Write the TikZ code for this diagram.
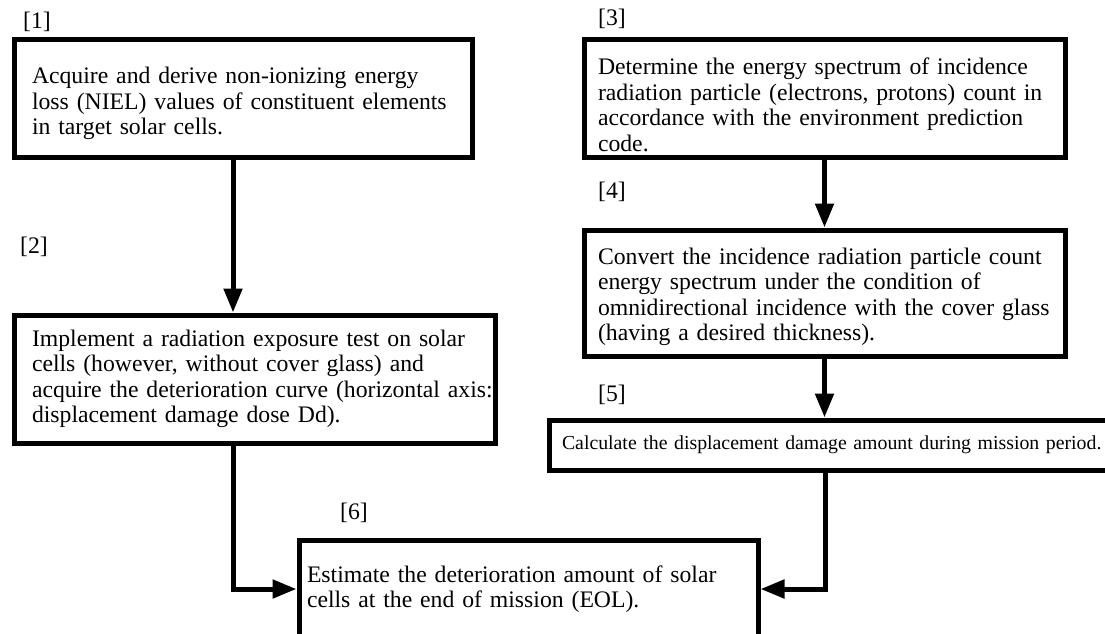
\documentclass[tikz,border=0pt]{standalone}
\usepackage{fontspec}
\setmainfont{Liberation Serif}
\usetikzlibrary{arrows.meta}
\begin{document}
\begin{tikzpicture}[x=1pt,y=-1pt,
  box/.style={draw, line width=5pt, rectangle, inner ysep=0pt, align=left,
    font=\fontsize{23.7}{25.5}\selectfont},
  smallbox/.style={draw, line width=5pt, rectangle, inner ysep=0pt, align=left,
    font=\fontsize{19.8}{22}\selectfont},
  lbl/.style={inner sep=0pt, anchor=base west, font=\fontsize{23.7}{25.5}\selectfont},
  conn/.style={line width=5pt, -{Triangle[length=24pt,width=18pt]}}]
\path[fill=white, use as bounding box] (0,0) rectangle (1105,633);

% boxes
\node[box, minimum width=458pt, minimum height=118pt, inner xsep=18pt, text width=422pt] (b1) at (243,98)
  {\rule{0pt}{28pt}\mbox{Acquire and derive non-ionizing energy}\\\mbox{loss (NIEL) values of constituent elements}\\\mbox{in target solar cells.}};
\node[box, minimum width=481pt, minimum height=128pt, inner xsep=18pt, text width=445pt] (b2) at (254.5,379)
  {\mbox{Implement a radiation exposure test on solar}\\\mbox{cells (however, without cover glass) and}\\\mbox{acquire the deterioration curve (horizontal axis:}\\\mbox{displacement damage dose Dd).}};
\node[box, minimum width=481pt, minimum height=118pt, inner xsep=14pt, text width=453pt] (b3) at (824.5,98)
  {\rule{0pt}{30pt}\mbox{Determine the energy spectrum of incidence}\\\mbox{radiation particle (electrons, protons) count in}\\\mbox{accordance with the environment prediction}\\\mbox{code.}};
\node[box, minimum width=481pt, minimum height=126pt, inner xsep=14pt, text width=453pt] (b4) at (824.5,293)
  {\rule{0pt}{24pt}\mbox{Convert the incidence radiation particle count}\\\mbox{energy spectrum under the condition of}\\\mbox{omnidirectional incidence with the cover glass}\\\mbox{(having a desired thickness).}};
\node[smallbox, minimum width=566pt, minimum height=50pt, inner xsep=13pt, text width=540pt] (b5) at (832,445)
  {\mbox{Calculate the displacement damage amount during mission period.}};
\node[box, minimum width=459pt, minimum height=98pt, inner xsep=8pt, text width=443pt] (b6) at (528.5,589)
  {\mbox{Estimate the deterioration amount of solar}\\\mbox{cells at the end of mission (EOL).}};

% labels
\node[lbl] (l1) at (23,28) {[1]};
\node[lbl] (l2) at (20,253) {[2]};
\node[lbl] (l3) at (598,25) {[3]};
\node[lbl] (l4) at (598,198) {[4]};
\node[lbl] (l5) at (598,401) {[5]};
\node[lbl] (l6) at (340,519) {[6]};

% connectors
\coordinate (xl) at (233,0);
\coordinate (xr) at (825,0);
\draw[conn] (b1.south -| xl) -- (b2.north -| xl);
\draw[conn] (b3.south) -- (b4.north);
\draw[conn] (b4.south) -- (b5.north -| b4.south);
\draw[conn] (b2.south -| xl) |- (b6.west);
\draw[conn] (b5.south -| xr) |- (b6.east);
\end{tikzpicture}
\end{document}
